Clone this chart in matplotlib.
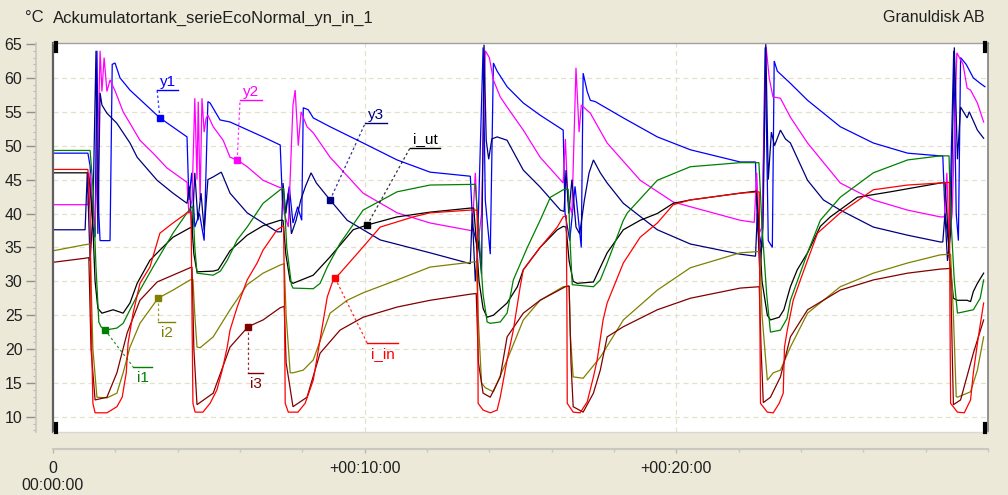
import numpy as np
import matplotlib
matplotlib.use("Agg")
import matplotlib.pyplot as plt
from matplotlib.ticker import MultipleLocator, FixedLocator

plt.rcParams['font.family'] = ['Liberation Sans', 'DejaVu Sans']

# ---- data: (time in minutes, temperature °C) ----
y1 = [(0,48.9),(1.12,48.9),(1.19,47),(1.28,38),(1.35,36.5),(1.41,64),(1.47,40),(1.51,36),(1.83,36),(1.90,62),(1.99,62.2),(2.15,60),(2.47,58.2),(3.43,54.1),(4.30,51.3),(4.36,42),(4.45,46),(4.55,38),(4.70,40),(4.85,36),(4.97,56.5),(5.04,56.3),(5.36,53.8),(5.68,53.5),(6.74,51.3),(7.29,50.1),(7.36,42),(7.45,40),(7.58,44),(7.70,38.6),(7.85,41),(7.98,39),(8.03,55.6),(8.19,55.3),(8.35,54.1),(8.89,52.8),(9.95,50.4),(11.04,47.9),(12.10,46.1),(13.39,45.5),(13.47,38),(13.62,35),(13.80,64.5),(13.87,42),(14.03,34),(14.13,62.2),(14.25,61),(14.57,58.7),(15.09,56.3),(15.63,54.5),(16.37,52.3),(16.43,40),(16.58,36),(16.75,44),(16.95,35),(17.01,60.7),(17.14,58),(17.24,56.7),(17.40,56.5),(18.30,54.1),(19.39,51.3),(20.45,49.4),(22.05,47.6),(22.54,47.6),(22.60,38),(22.75,35),(22.85,64.5),(22.95,36),(23.08,35),(23.14,62.5),(23.24,61),(23.66,59.2),(24.21,56.7),(25.26,52.8),(26.32,50.4),(27.42,48.9),(28.47,48.5),(28.55,48.5),(28.62,40),(28.75,35),(28.90,64),(28.98,40),(29.05,36),(29.12,63),(29.30,62),(29.53,60),(29.75,59.2),(29.90,58.7)]

y2 = [(0,41.3),(1.12,41.3),(1.19,46),(1.28,40),(1.35,38),(1.44,50),(1.51,64),(1.57,58),(1.64,63),(1.73,58),(1.83,59.7),(2.0,58),(2.25,55),(2.47,53.3),(2.79,50.8),(3.21,48.9),(3.66,46.7),(4.30,44.6),(4.36,40),(4.46,42),(4.55,57),(4.62,45),(4.66,56.5),(4.72,42),(4.78,57),(4.85,52),(4.91,54),(4.97,54.5),(5.14,52.8),(5.46,50.8),(5.68,48.3),(5.91,47.9),(6.23,46.9),(6.74,44.9),(7.29,43.8),(7.35,43.8),(7.42,40),(7.55,38),(7.70,56),(7.77,58.2),(7.87,50),(7.96,55),(8.15,52.8),(8.35,51.9),(8.89,48.3),(9.95,43),(11.04,40.1),(12.10,38.6),(13.39,37.5),(13.45,37.5),(13.55,46),(13.65,36),(13.75,40),(13.87,64),(14.0,63),(14.13,59.7),(14.35,57.2),(14.57,55.7),(15.09,52.3),(15.63,48.3),(16.37,44.5),(16.44,51),(16.52,42),(16.65,40),(16.78,61.5),(16.88,52),(16.95,56),(17.24,54.8),(17.78,50.4),(18.84,44.9),(19.90,41.7),(20.45,41),(22.05,39),(22.50,38.7),(22.58,46),(22.65,37),(22.75,38),(22.88,64.6),(22.98,60),(23.10,57.2),(23.34,57),(23.66,54.2),(24.21,50.4),(25.26,44.5),(26.32,42),(27.42,40.5),(28.47,39.5),(28.60,39.5),(28.68,46),(28.75,36),(28.85,40),(29.00,63.7),(29.20,62),(29.33,58.5),(29.44,58.2),(29.66,56.3),(29.86,53.5)]

y3 = [(0,37.6),(1.03,37.6),(1.10,46),(1.19,33),(1.28,40),(1.38,64),(1.44,37),(1.51,57.8),(1.57,56),(1.73,54.8),(2.05,53.3),(2.47,50.4),(2.70,48.3),(3.34,44.9),(3.85,43),(4.30,41.5),(4.38,44),(4.46,37),(4.55,46),(4.65,39),(4.75,43),(4.85,37.5),(4.97,45),(5.14,45.4),(5.40,46.1),(5.68,43),(6.23,40.1),(6.74,38.6),(7.19,37.3),(7.33,37.3),(7.38,44.5),(7.47,40),(7.55,43),(7.65,37),(7.80,39),(7.95,42),(8.10,44),(8.28,46),(8.45,44.5),(8.89,42),(9.44,39),(10.50,36.1),(12.10,34.2),(13.39,32.6),(13.45,40),(13.55,30),(13.65,36),(13.75,31),(13.83,64.9),(13.90,50.8),(13.98,48),(14.08,51),(14.25,51.3),(14.57,50.8),(14.90,48),(15.09,46.4),(15.63,43.9),(16.28,40.5),(16.40,40.3),(16.46,46.4),(16.55,40),(16.65,45),(16.78,38),(16.90,37),(17.05,42),(17.20,46),(17.34,47.9),(17.56,46),(17.78,44.5),(18.30,41.5),(19.39,37.6),(20.45,35.5),(22.05,34),(22.54,33.7),(22.60,40),(22.68,31),(22.78,38),(22.87,65),(22.95,45),(23.05,52),(23.15,50),(23.34,52.3),(23.50,51),(23.66,50.4),(24.21,44.9),(24.72,42),(25.26,40.5),(26.32,38),(27.42,36.8),(28.47,35.8),(28.55,35.8),(28.62,40),(28.70,33),(28.80,37),(28.92,64.5),(29.02,48),(29.12,55.7),(29.33,54.1),(29.40,55),(29.66,52.3),(29.86,51.1)]

i_ut = [(0,46),(1.12,46),(1.19,44),(1.28,38),(1.35,30),(1.44,26),(1.57,25.3),(1.93,25.8),(2.25,25.3),(2.47,26.8),(2.70,29.7),(3.11,33.1),(3.43,34.6),(3.85,36.5),(4.40,37.9),(4.46,37.9),(4.52,34),(4.62,31.4),(5.14,31.5),(5.30,31.7),(5.68,34.5),(6.23,36.8),(6.74,38.2),(7.29,39),(7.38,39),(7.47,34),(7.61,30),(7.70,29.7),(8.35,30.9),(8.89,33.6),(9.63,37.6),(10.08,38.3),(11.04,39.5),(12.10,40.2),(13.39,40.8),(13.50,40.8),(13.58,36),(13.67,30),(13.80,26),(13.93,24.7),(14.13,25),(14.57,26.8),(14.90,29.2),(15.09,31.7),(15.63,35),(16.18,37.6),(16.37,38.1),(16.46,38),(16.56,33),(16.69,30),(16.82,29.7),(17.34,29.9),(17.78,34.2),(18.30,37.6),(18.84,39),(19.39,40),(19.90,41.5),(20.45,42),(22.05,43),(22.57,43.3),(22.65,38),(22.75,30),(22.92,25),(23.02,24.3),(23.30,24.7),(23.45,25.8),(23.66,29.2),(23.88,31.7),(24.21,34.2),(24.62,38.1),(24.94,39.5),(25.81,42.4),(26.87,43.2),(28.47,44.5),(28.62,44.6),(28.68,40),(28.77,33),(28.89,27.5),(29.02,27.2),(29.33,27.2),(29.44,27),(29.53,28.5),(29.66,29.7),(29.86,31.2)]

i1 = [(0,49.3),(1.19,49.3),(1.28,44),(1.38,32),(1.47,24),(1.54,23.3),(1.67,22.8),(2.05,23.1),(2.25,23.8),(2.47,25.8),(2.79,28.7),(3.21,32.1),(3.85,37.1),(4.30,40.1),(4.46,41),(4.49,41),(4.55,35),(4.62,31.2),(5.14,30.9),(5.37,31.5),(5.59,33.1),(5.91,36.1),(6.23,38),(6.74,41.5),(7.29,43.5),(7.40,43.7),(7.50,35),(7.65,29.5),(7.70,29),(8.35,28.9),(8.57,29.7),(8.80,32.1),(9.21,35.6),(9.44,37.1),(9.95,40.5),(11.04,43.2),(12.10,44.2),(13.55,44.3),(13.65,38),(13.80,28),(13.93,24),(14.03,23.8),(14.35,24),(14.57,25.3),(14.77,30.2),(15.22,35),(15.63,39),(15.96,42.4),(16.37,43.5),(16.53,43.6),(16.60,35),(16.66,29.5),(17.34,29.2),(17.56,30.2),(17.78,32.7),(18.30,39),(18.43,40.1),(19.39,44.9),(20.45,46.9),(22.05,47.5),(22.65,47.5),(22.75,38),(22.90,28),(23.02,22.5),(23.34,22.8),(23.55,24.5),(23.66,27.2),(24.21,34.2),(24.62,39),(25.26,42.4),(26.32,46),(27.42,47.9),(28.47,48.5),(28.75,48.5),(28.80,40),(28.92,30),(29.02,25.3),(29.53,25.8),(29.75,27.5),(29.86,30.2)]

i2 = [(0,34.5),(1.03,35.4),(1.19,35.5),(1.28,20),(1.41,12.9),(1.73,12.8),(2.05,13.5),(2.25,16.5),(2.47,20.3),(2.79,23.8),(3.37,27.5),(3.85,28.7),(4.40,30.2),(4.49,30.3),(4.55,25),(4.62,20.3),(4.72,20.2),(5.14,21.8),(5.68,25.8),(6.23,29.5),(6.74,31.2),(7.29,32.4),(7.42,32.6),(7.48,25),(7.61,16.5),(7.70,16.5),(8.03,16.9),(8.35,18.4),(8.89,25.3),(9.44,27.2),(9.95,28.3),(11.04,30.2),(12.10,32.1),(13.39,32.8),(13.58,32.9),(13.64,25),(13.75,15),(13.87,14.3),(14.13,13.7),(14.57,18.4),(15.09,24.3),(15.63,27.2),(16.37,29.2),(16.56,29.3),(16.60,22),(16.69,15.9),(17.01,15.7),(17.56,18.8),(18.30,24.3),(19.39,28.7),(20.45,32),(22.05,34.2),(22.68,34.4),(22.75,25),(22.92,15.4),(23.11,16.5),(23.34,16.9),(23.66,20.3),(24.21,25.3),(25.26,29.2),(26.32,31.2),(27.42,32.7),(28.47,33.9),(28.80,34),(28.89,25),(28.98,13),(29.02,12.9),(29.44,13.7),(29.66,16.9),(29.86,21.8)]

i3 = [(0,32.8),(1.03,33.4),(1.15,33.5),(1.22,20),(1.35,12.5),(1.73,12.9),(2.05,16.5),(2.38,22.4),(2.79,27.2),(3.34,29.9),(4.40,32),(4.46,32.1),(4.52,20),(4.62,11.8),(5.14,13.5),(5.68,20.3),(6.26,23.3),(6.74,24.3),(7.29,26.1),(7.42,26.3),(7.48,18),(7.70,11.5),(8.15,12.9),(8.57,19.4),(9.21,22.8),(9.95,24.7),(11.04,26.2),(12.10,27.2),(13.39,28.1),(13.58,28.2),(13.65,18),(13.80,13.5),(14.03,12.9),(14.35,15.9),(14.57,21.8),(15.09,25.3),(15.63,27.2),(16.44,29.2),(16.56,29.3),(16.62,18),(16.69,11.5),(17.01,10.7),(17.34,13.5),(17.56,16.9),(17.78,21.8),(18.30,23.3),(19.39,25.8),(20.45,27.5),(22.05,29),(22.66,29.2),(22.72,20),(22.79,12.1),(23.02,12.9),(23.34,15.9),(23.66,21.8),(24.21,25.8),(25.26,28.7),(26.32,30.2),(27.42,31.2),(28.47,31.8),(28.80,31.9),(28.85,20),(28.89,11.8),(29.12,12.5),(29.53,19.4),(29.86,24.3)]

i_in = [(0,46.5),(1.12,46.5),(1.19,40),(1.22,25),(1.28,12),(1.35,10.6),(1.73,10.6),(2.05,11.5),(2.22,12.9),(2.35,16.5),(2.41,20.9),(2.57,25.3),(2.79,29.7),(3.11,32.1),(3.43,37.1),(3.85,38.6),(4.30,40.1),(4.43,40.3),(4.46,25),(4.49,12),(4.56,10.7),(4.81,10.7),(5.04,12),(5.26,14),(5.43,16.9),(5.59,20.3),(5.68,22.8),(5.91,26.2),(6.23,30.2),(6.55,32.7),(6.74,34.6),(7.19,37.6),(7.40,38.2),(7.43,25),(7.45,12),(7.55,10.7),(7.86,10.7),(8.09,12),(8.35,15.4),(8.57,21.4),(8.80,27.7),(8.99,30.2),(9.21,31.2),(9.86,34.6),(10.50,38),(11.56,39.5),(12.10,40.1),(13.39,40.5),(13.61,40.5),(13.63,25),(13.64,12),(13.80,11),(14.03,10.6),(14.25,11),(14.35,12.9),(14.57,18.4),(14.77,22.8),(14.99,29.2),(15.09,31.7),(15.63,35),(16.18,38),(16.37,39.5),(16.47,39.7),(16.49,25),(16.50,12),(16.69,10.7),(16.91,10.6),(17.14,12.2),(17.34,15.9),(17.46,18.4),(17.65,24.3),(17.78,26.8),(18.30,32.7),(18.84,36.5),(19.39,38.6),(19.90,41.3),(20.45,42),(22.05,43),(22.66,43.2),(22.68,25),(22.70,12),(22.92,10.7),(23.11,10.6),(23.30,12),(23.43,13.5),(23.47,20.3),(23.56,22.8),(23.75,27.2),(23.98,30.2),(24.21,33.1),(24.53,37.1),(25.26,40.1),(26.32,43.5),(27.42,44.2),(28.47,44.5),(28.76,44.6),(28.78,25),(28.80,12),(29.02,10.7),(29.24,10.6),(29.44,12.5),(29.53,16.5),(29.69,21.8),(29.86,26.8)]

series_names = ['y1', 'y2', 'y3', 'i_ut', 'i1', 'i2', 'i3', 'i_in']
series_data = [y1, y2, y3, i_ut, i1, i2, i3, i_in]
series_colors = ['#0000FF', '#FF00FF', '#000080', '#000000', '#008000', '#808000', '#800000', '#FF0000']

# label callouts: (marker time, underline start time, underline level, underline end time, text above?)
label_marker_t = [3.43, 5.91, 8.89, 10.08, 1.67, 3.37, 6.26, 9.05]
label_line_t0 = [3.34, 6.00, 10.02, 11.46, 2.57, 3.37, 6.26, 10.08]
label_line_t1 = [4.01, 6.71, 10.72, 12.42, 3.18, 3.91, 6.74, 11.08]
label_line_v = [58.2, 56.7, 53.35, 49.7, 17.4, 24.0, 16.5, 20.9]
label_above = [True, True, True, True, False, False, False, False]

y_ticks = [10, 15, 20, 25, 30, 35, 40, 45, 50, 55, 60, 65]
x_ticks = [0, 10, 20]
x_ticklabels = ['0\n00:00:00', '+00:10:00', '+00:20:00']
title_unit = '°C'
title_text = 'Ackumulatortank_serieEcoNormal_yn_in_1'
company = 'Granuldisk AB'

BG = '#ECE9D8'
fig = plt.figure(figsize=(10.08, 4.95), dpi=100, facecolor=BG)
W, H = 1008, 495
ax = fig.add_axes([53 / W, 63 / H, 935 / W, 389 / H])
ax.set_facecolor('white')
ax.set_xlim(0, 30)
ax.set_ylim(7.77, 65.15)

# grid
for v in y_ticks[:-1]:
    ax.axhline(v, color='#E4E0CC', lw=0.9, ls=(0, (4, 3)), zorder=0)
for t in x_ticks[1:]:
    ax.axvline(t, color='#E4E0CC', lw=0.9, ls=(0, (4, 3)), zorder=0)

# series
for name, data, col in zip(series_names, series_data, series_colors):
    t = [p[0] for p in data]
    v = [p[1] for p in data]
    ax.plot(t, v, color=col, lw=0.9, zorder=2, solid_joinstyle='miter')

# callouts
for k, (name, data, col) in enumerate(zip(series_names, series_data, series_colors)):
    t = np.array([p[0] for p in data])
    v = np.array([p[1] for p in data])
    tm = label_marker_t[k]
    vm = float(np.interp(tm, t, v))
    ax.plot([tm], [vm], marker='s', ms=4.5, color=col, zorder=4)
    ax.plot([tm, label_line_t0[k]], [vm, label_line_v[k]], color=col, lw=0.9,
            ls=(0, (2, 2)), alpha=0.8, zorder=4)
    ax.plot([label_line_t0[k], label_line_t1[k]], [label_line_v[k]] * 2, color=col,
            lw=1.0, zorder=4)
    mid = (label_line_t0[k] + label_line_t1[k]) / 2
    if label_above[k]:
        ax.annotate(name, (mid, label_line_v[k]), xytext=(0, 1), textcoords='offset points',
                    ha='center', va='bottom', color=col, fontsize=11, zorder=5)
    else:
        ax.annotate(name, (mid, label_line_v[k]), xytext=(0, -3), textcoords='offset points',
                    ha='center', va='top', color=col, fontsize=11, zorder=5)

# frame of plot area
for s in ['top', 'right']:
    ax.spines[s].set_visible(False)
ax.plot([0, 0], [0, 1], transform=ax.transAxes, color='#606060', lw=1.6, clip_on=False, zorder=6)
ax.plot([0, 1], [1, 1], transform=ax.transAxes, color='#A0A0A0', lw=1.0, clip_on=False, zorder=6)
ax.plot([1, 1], [0, 1], transform=ax.transAxes, color='#808080', lw=1.2, clip_on=False, zorder=6)
ax.plot([0, 1], [0, 0], transform=ax.transAxes, color='#D8D8D8', lw=1.0, clip_on=False, zorder=6)
for xa, ya in [(0.003, (0.98, 1.0)), (0.003, (0.0, 0.02)), (0.997, (0.98, 1.0)), (0.997, (0.0, 0.02))]:
    ax.plot([xa, xa], list(ya), transform=ax.transAxes, color='black', lw=3, clip_on=False, zorder=7)

# y ruler
ax.spines['left'].set_position(('outward', 12))
ax.spines['left'].set_color('#C8C8C0')
ax.spines['left'].set_linewidth(1.2)
ax.set_yticks(y_ticks)
ax.yaxis.set_minor_locator(MultipleLocator(1))
ax.tick_params(axis='y', which='major', length=7, width=1, color='#909090', pad=3,
               labelsize=11.5, labelcolor='#202020')
ax.tick_params(axis='y', which='minor', length=2.5, width=0.8, color='#B8B8B0')

# x ruler
ax.spines['bottom'].set_position(('outward', 12))
ax.spines['bottom'].set_color('#C8C8C0')
ax.spines['bottom'].set_linewidth(1.5)
ax.xaxis.set_major_locator(FixedLocator(x_ticks))
ax.set_xticklabels(x_ticklabels)
ax.xaxis.set_minor_locator(MultipleLocator(2))
ax.tick_params(axis='x', which='major', length=3, width=1, color='#B8B8B0', pad=6,
               labelsize=11.5, labelcolor='#202020')
ax.tick_params(axis='x', which='minor', length=2.5, width=1, color='#C8C8C0')
for lbl in ax.get_xticklabels():
    lbl.set_linespacing(1.15)

# header texts
fig.text(25 / W, 1 - 18 / H, title_unit, fontsize=12, va='center', ha='left', color='#202020')
fig.text(53 / W, 1 - 18 / H, title_text, fontsize=12, va='center', ha='left', color='#202020')
fig.text(985 / W, 1 - 18 / H, company, fontsize=11.5, va='center', ha='right', color='#202020')

fig.savefig('out.png', dpi=100, facecolor=BG)
